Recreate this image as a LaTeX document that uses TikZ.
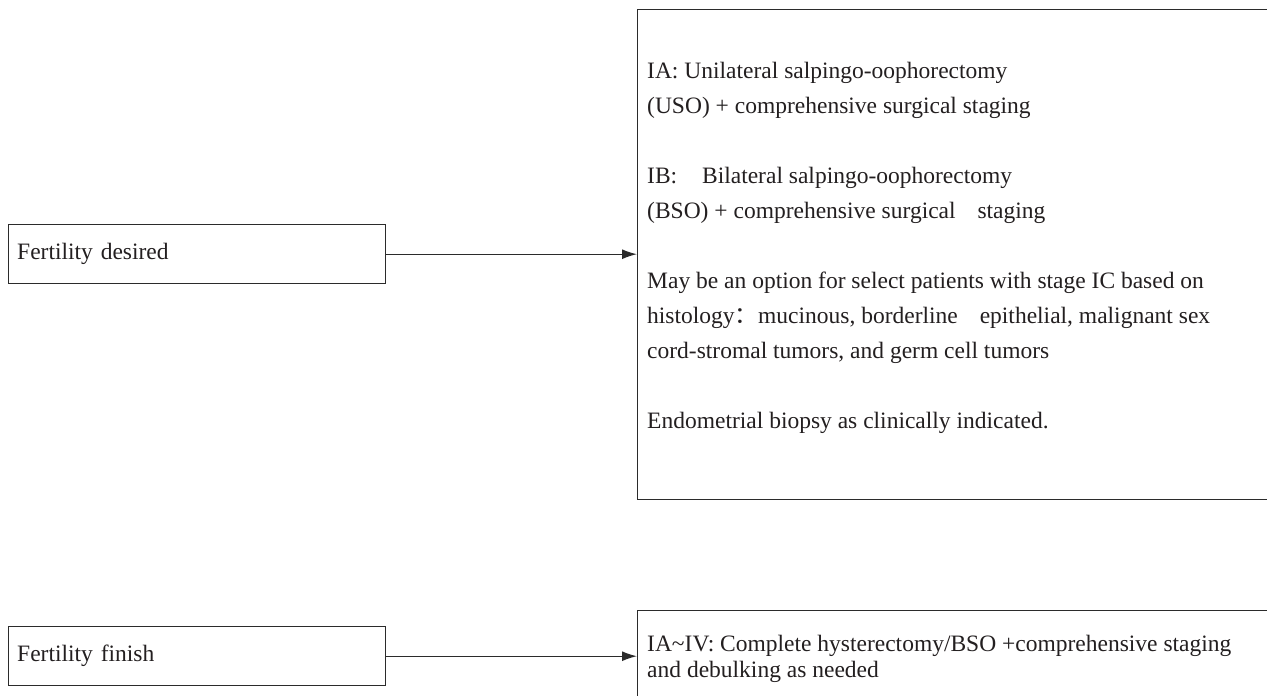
\documentclass[tikz,border=0pt]{standalone}
\usepackage{fontspec}
\setmainfont{Liberation Serif}
\newfontfamily\cjk{Noto Sans CJK SC}
\usetikzlibrary{arrows.meta}
\definecolor{ink}{HTML}{231F20}
\definecolor{edge}{HTML}{2B2B2B}
\begin{document}
\begin{tikzpicture}[x=1pt,y=-1pt,
  box/.style={draw=edge, line width=1.4pt, rectangle, inner sep=0pt},
  bodytext/.style={text=ink, inner sep=0pt, align=left, anchor=north west},
  link/.style={draw=edge, line width=1.4pt, -{Latex[length=15pt,width=10pt]}},
  every node/.style={font=\fontsize{23.5}{35}\selectfont}]
\useasboundingbox (0,0) rectangle (1267,696);
\clip (0,0) rectangle (1267,696);

% left-hand decision boxes
\node[box, minimum width=377pt, minimum height=59pt, anchor=north west,
      text width=360pt, align=left, text=ink] (fd) at (8,224) {Fertility desired};
\node[box, minimum width=377pt, minimum height=59pt, anchor=north west,
      text width=360pt, align=left, text=ink] (ff) at (8,626) {Fertility finish};

% right-hand treatment boxes (they run past the right edge)
\node[box, minimum width=700pt, minimum height=490pt, anchor=north west] (tdesired) at (637,9) {};
\node[box, minimum width=700pt, minimum height=90pt, anchor=north west] (tfinish) at (637,610) {};

\node[bodytext] (tdtext) at (647,62) {%
IA: Unilateral salpingo-oophorectomy\\
(USO) + comprehensive surgical staging\\[35pt]
IB:\hspace{19pt} Bilateral salpingo-oophorectomy\\
(BSO) + comprehensive surgical\hspace{16pt} staging\\[35pt]
May be an option for select patients with stage IC based on\\
histology{\cjk ：}mucinous, borderline\hspace{16pt} epithelial, malignant sex\\
cord-stromal tumors, and germ cell tumors\\[35pt]
Endometrial biopsy as clinically indicated.};

\node[bodytext, font=\fontsize{23.5}{26}\selectfont] (tftext) at (647,635) {%
IA\textasciitilde IV: Complete hysterectomy/BSO +comprehensive staging\\
and debulking as needed};

% connectors
\draw[link] (fd.east) -- (fd.east -| tdesired.west);
\draw[link] (ff.east) -- (ff.east -| tfinish.west);
\end{tikzpicture}
\end{document}
